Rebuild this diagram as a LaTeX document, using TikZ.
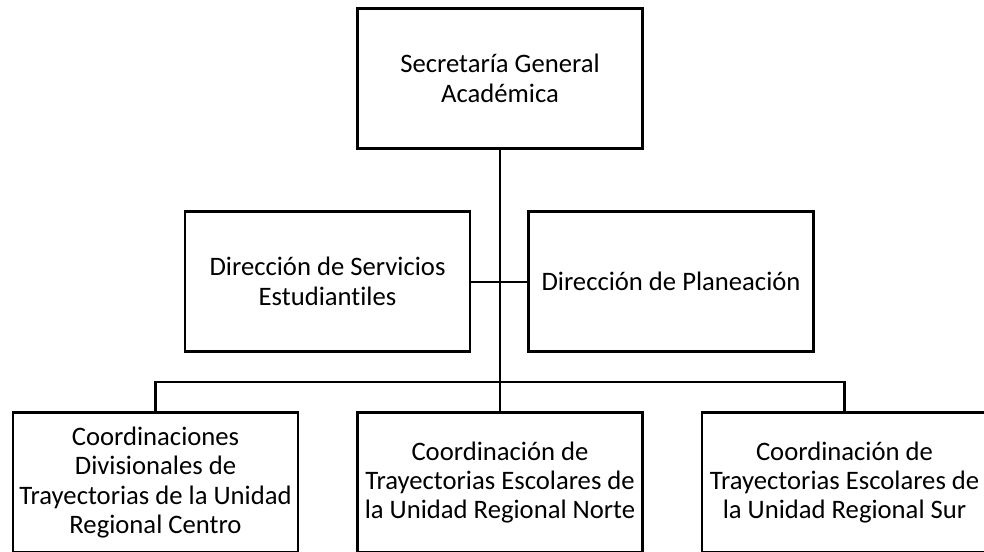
\documentclass[tikz,border=0pt]{standalone}
\usepackage{fontspec}
\setmainfont[Ligatures=NoCommon]{Carlito}
\begin{document}
\begin{tikzpicture}[x=0.75pt,y=-0.75pt,
  orgbox/.style={draw=black, line width=1.8pt, fill=white, minimum width=214pt, minimum height=105pt, align=center, inner sep=0pt, font=\fontsize{20}{22}\selectfont},
  link/.style={draw=black, line width=1.8pt}]
\useasboundingbox (0,0) rectangle (984,552);
\clip (0,0) rectangle (984,552);
\node[orgbox] (sga) at (500,78.5) {Secretaría General\\Académica};
\node[orgbox] (dse) at (327.5,281.5) {Dirección de Servicios\\Estudiantiles};
\node[orgbox] (dp) at (671,281.5) {Dirección de Planeación};
\node[orgbox] (cc) at (155.5,482.5) {Coordinaciones\\Divisionales de\\Trayectorias de la Unidad\\Regional Centro};
\node[orgbox] (cn) at (500,482.5) {Coordinación de\\Trayectorias Escolares de\\la Unidad Regional Norte};
\node[orgbox] (cs) at (844.5,482.5) {Coordinación de\\Trayectorias Escolares de\\la Unidad Regional Sur};
\coordinate (bus) at (500,382);
\coordinate (mid) at (500,282);
\draw[link] (sga.south) -- (bus);
\draw[link] (dse.east |- mid) -- (dp.west |- mid);
\draw[link] (cc.north) |- (bus) -| (cs.north);
\draw[link] (bus) -- (cn.north);
\end{tikzpicture}
\end{document}
